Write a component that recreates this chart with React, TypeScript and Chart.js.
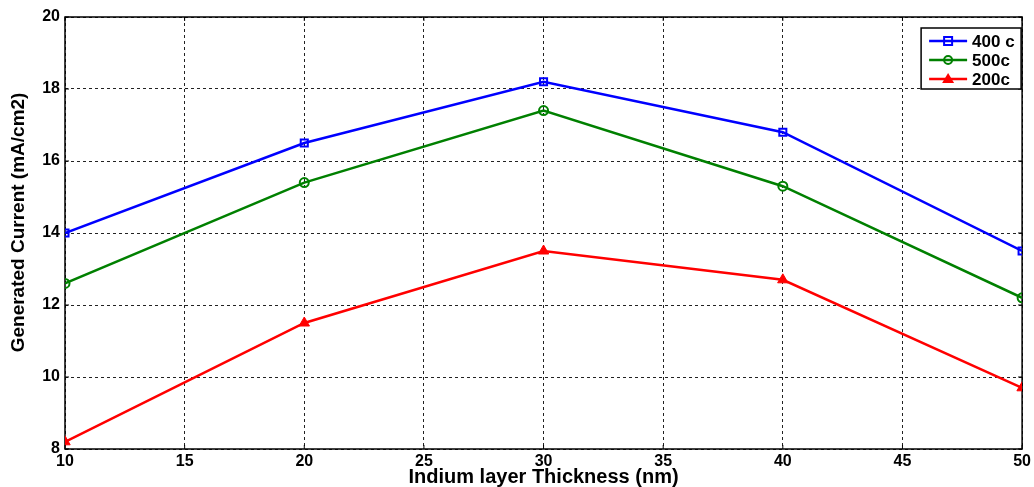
import React, { useEffect, useRef } from "react";
import { Chart, registerables } from "chart.js";

Chart.register(...registerables);

const thickness = [10, 20, 30, 40, 50];
const series400 = [14.0, 16.5, 18.2, 16.8, 13.5];
const series500 = [12.6, 15.4, 17.4, 15.3, 12.2];
const series200 = [8.2, 11.5, 13.5, 12.7, 9.7];
const seriesLabels = ["400 c", "500c", "200c"];
const xTicks = [10, 15, 20, 25, 30, 35, 40, 45, 50];
const yTicks = [8, 10, 12, 14, 16, 18, 20];

const FONT = "'Liberation Sans', Arial, sans-serif";

const boxPlugin = {
  id: "matlabBox",
  beforeDatasetsDraw(chart: any) {
    const { ctx, chartArea: a, scales } = chart;
    ctx.save();
    ctx.strokeStyle = "#000";
    ctx.lineWidth = 1.5;
    ctx.setLineDash([]);
    ctx.strokeRect(a.left, a.top, a.right - a.left, a.bottom - a.top);
    ctx.lineWidth = 1;
    const tl = 4;
    for (const v of xTicks) {
      const x = scales.x.getPixelForValue(v);
      ctx.beginPath();
      ctx.moveTo(x, a.bottom);
      ctx.lineTo(x, a.bottom - tl);
      ctx.moveTo(x, a.top);
      ctx.lineTo(x, a.top + tl);
      ctx.stroke();
    }
    for (const v of yTicks) {
      const y = scales.y.getPixelForValue(v);
      ctx.beginPath();
      ctx.moveTo(a.left, y);
      ctx.lineTo(a.left + tl, y);
      ctx.moveTo(a.right, y);
      ctx.lineTo(a.right - tl, y);
      ctx.stroke();
    }
    ctx.restore();
  },
  afterDraw(chart: any) {
    const { ctx, chartArea: a } = chart;
    const bx = a.right - 101;
    const by = a.top + 11;
    const bw = 100;
    const bh = 61;
    ctx.save();
    ctx.fillStyle = "#fff";
    ctx.fillRect(bx, by, bw, bh);
    ctx.strokeStyle = "#000";
    ctx.lineWidth = 1.5;
    ctx.strokeRect(bx, by, bw, bh);
    chart.data.datasets.forEach((ds: any, i: number) => {
      const y = by + 13 + i * 19;
      ctx.strokeStyle = ds.borderColor;
      ctx.lineWidth = 2.5;
      ctx.beginPath();
      ctx.moveTo(bx + 8, y);
      ctx.lineTo(bx + 46, y);
      ctx.stroke();
      const cx = bx + 27;
      ctx.lineWidth = 2;
      if (ds.pointStyle === "rect") {
        ctx.strokeRect(cx - 4, y - 4, 8, 8);
      } else if (ds.pointStyle === "circle") {
        ctx.beginPath();
        ctx.arc(cx, y, 4, 0, Math.PI * 2);
        ctx.stroke();
      } else {
        ctx.fillStyle = ds.borderColor;
        ctx.beginPath();
        ctx.moveTo(cx, y - 6);
        ctx.lineTo(cx + 6, y + 4);
        ctx.lineTo(cx - 6, y + 4);
        ctx.closePath();
        ctx.fill();
      }
      ctx.fillStyle = "#000";
      ctx.font = `bold 17px ${FONT}`;
      ctx.textBaseline = "middle";
      ctx.textAlign = "left";
      ctx.fillText(ds.label, bx + 51, y + 1);
    });
    ctx.restore();
  },
};

export default function App() {
  const ref = useRef<HTMLCanvasElement>(null);
  useEffect(() => {
    if (!ref.current) return;
    const mk = (x: number[], y: number[]) => x.map((v, i) => ({ x: v, y: y[i] }));
    const chart = new Chart(ref.current, {
      type: "line",
      data: {
        datasets: [
          {
            label: seriesLabels[0],
            data: mk(thickness, series400),
            borderColor: "#0000ff",
            backgroundColor: "transparent",
            pointBorderColor: "#0000ff",
            pointBackgroundColor: "transparent",
            pointStyle: "rect",
            pointRadius: 5,
            pointBorderWidth: 2,
            borderWidth: 2.5,
          },
          {
            label: seriesLabels[1],
            data: mk(thickness, series500),
            borderColor: "#008000",
            backgroundColor: "transparent",
            pointBorderColor: "#008000",
            pointBackgroundColor: "transparent",
            pointStyle: "circle",
            pointRadius: 4.5,
            pointBorderWidth: 2,
            borderWidth: 2.5,
          },
          {
            label: seriesLabels[2],
            data: mk(thickness, series200),
            borderColor: "#ff0000",
            backgroundColor: "#ff0000",
            pointBorderColor: "#ff0000",
            pointBackgroundColor: "#ff0000",
            pointStyle: "triangle",
            pointRadius: 6,
            pointBorderWidth: 1,
            borderWidth: 2.5,
          },
        ],
      },
      options: {
        animation: false,
        responsive: false,
        maintainAspectRatio: false,
        layout: { padding: { top: 17, right: 9, left: 0, bottom: 0 } },
        plugins: {
          legend: { display: false },
          tooltip: { enabled: false },
        },
        elements: { line: { tension: 0 } },
        scales: {
          x: {
            type: "linear",
            min: 10,
            max: 50,
            afterBuildTicks: (s: any) => {
              s.ticks = xTicks.map((v) => ({ value: v }));
            },
            afterFit: (s: any) => {
              s.height = 38;
            },
            grid: { color: "#222", lineWidth: 1, drawTicks: false },
            border: { display: false, dash: [3, 3] },
            ticks: {
              color: "#000",
              padding: 3,
              maxRotation: 0,
              font: { family: FONT, size: 16, weight: "bold" },
            },
            title: {
              display: true,
              text: "Indium layer Thickness (nm)",
              color: "#000",
              font: { family: FONT, size: 20, weight: "bold", lineHeight: 1 },
              padding: { top: 0, bottom: 0 },
            },
          },
          y: {
            type: "linear",
            min: 8,
            max: 20,
            afterBuildTicks: (s: any) => {
              s.ticks = yTicks.map((v) => ({ value: v }));
            },
            afterFit: (s: any) => {
              s.width = 65;
            },
            grid: { color: "#222", lineWidth: 1, drawTicks: false },
            border: { display: false, dash: [3, 3] },
            ticks: {
              color: "#000",
              padding: 5,
              font: { family: FONT, size: 16, weight: "bold" },
            },
            title: {
              display: true,
              text: "    Generated Current (mA/cm2)",
              color: "#000",
              font: { family: FONT, size: 19, weight: "bold", lineHeight: 1 },
              padding: { top: 9, bottom: 0 },
            },
          },
        },
      },
      plugins: [boxPlugin],
    } as any);
    return () => chart.destroy();
  }, []);
  return (
    <div style={{ position: "fixed", left: 0, top: 0, width: 1034, height: 487, background: "#fff" }}>
      <canvas ref={ref} width={1034} height={487} style={{ display: "block", width: 1034, height: 487 }} />
    </div>
  );
}
